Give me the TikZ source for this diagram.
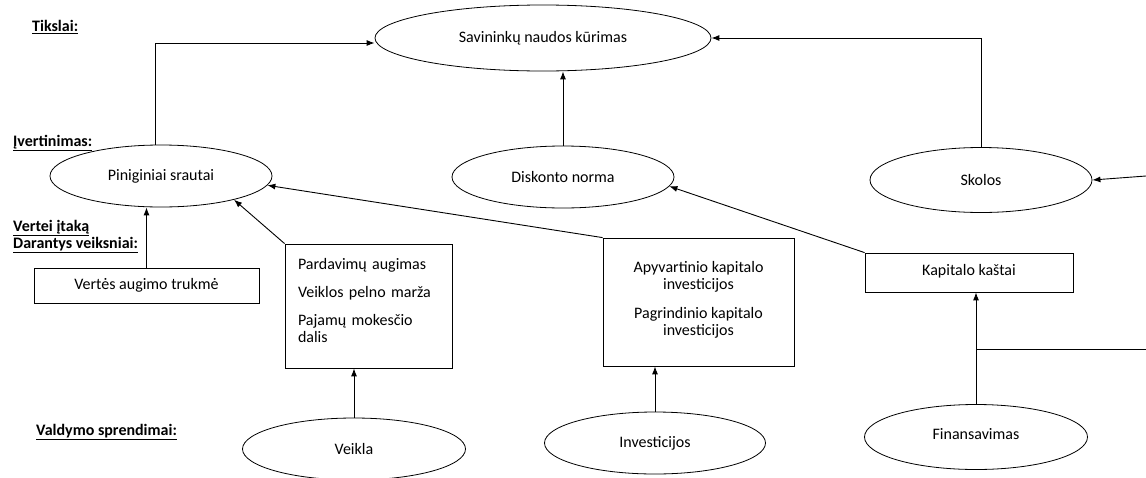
\documentclass[tikz,border=0pt]{standalone}
\usepackage{fontspec}
\setmainfont{Carlito}
\usetikzlibrary{shapes.geometric,arrows.meta}

\begin{document}
\begin{tikzpicture}[x=1pt,y=-1pt]
        \tikzstyle{every node}=[font=\fontsize{16}{17}\selectfont]
        \tikzstyle{oval}=[draw,ellipse,line width=0.8pt,inner sep=0pt,minimum width=222pt,minimum height=62pt]
        \tikzstyle{box}=[draw,rectangle,line width=0.8pt,inner sep=0pt]
        \tikzstyle{level}=[anchor=west,inner sep=0pt,font=\fontsize{16}{17}\selectfont\bfseries]
        \tikzstyle{arr}=[-{Latex[length=8pt,width=6pt]},line width=0.9pt]
        \useasboundingbox (0,0) rectangle (1146,477);

        % level labels
        \node[level] (lblgoal) at (32,27) {\underline{Tikslai:}};
        \node[level] (lbleval) at (13,143) {\underline{Įvertinimas:}};
        \node[level] (lblfactor) at (13,228) {\underline{Vertei įtaką}};
        \node[level] (lblfactorb) at (13,245) {\underline{Darantys veiksniai:}};
        \node[level] (lbldecision) at (36,432) {\underline{Valdymo sprendimai:}};

        % goal
        \node[oval,minimum width=336pt,minimum height=66pt] (goal) at (543,38) {Savininkų naudos kūrimas};

        % evaluation
        \node[oval] (cash) at (161,176) {Piniginiai srautai};
        \node[oval] (disc) at (563,177) {Diskonto norma};
        \node[oval,minimum height=65pt] (debt) at (981,180) {Skolos};
        \draw[arr] ([xshift=-6pt]cash.north) |- ([yshift=-5pt]goal.west);
        \draw[arr] (disc.north) -- (disc.north |- goal.south);
        \draw[arr] (debt.north) |- (goal.east);
        \coordinate (debtin) at (1146,176);
        \draw[arr] (debtin) -- (debt.east);

        % value drivers
        \node[box,minimum width=225pt,minimum height=35pt] (growth) at (146.5,285.5) {Vertės augimo trukmė};
        \node[box,minimum width=167pt,minimum height=124pt,text width=141pt,align=left] (opsbox) at (368.5,306)
            {Pardavimų augimas\\[11pt]Veiklos pelno marža\\[11pt]Pajamų mokesčio\\dalis\rule[-12pt]{0pt}{12pt}};
        \node[box,minimum width=191pt,minimum height=128pt,align=center] (invbox) at (698.5,302)
            {Apyvartinio kapitalo\\investicijos\\[12pt]Pagrindinio kapitalo\\investicijos\rule[-8pt]{0pt}{8pt}};
        \node[box,minimum width=208pt,minimum height=39pt] (costbox) at (969,272.5) {Kapitalo kaštai\rule[-6pt]{0pt}{6pt}};
        \draw[arr] (growth.north) -- (growth.north |- cash.south);
        \draw[arr] (opsbox.north west) -- (cash.-18);
        \draw[arr] (invbox.north west) -- (cash.-5);
        \draw[arr] (costbox.north west) -- (disc.-5);

        % management decisions
        \node[oval,minimum width=223pt] (opsdec) at (354,449) {Veikla};
        \node[oval,minimum width=221pt] (invdec) at (655,443) {Investicijos};
        \node[oval,minimum width=223pt,minimum height=65pt] (findec) at (976,437) {Finansavimas\rule[-6pt]{0pt}{6pt}};
        \draw[arr] (opsdec.north) -- (opsdec.north |- opsbox.south);
        \draw[arr] (invdec.north) -- (invdec.north |- invbox.south);
        \draw[arr] (findec.north) -- (findec.north |- costbox.south);
        \coordinate (finout) at (1146,349);
        \draw[line width=0.9pt] (findec.north |- finout) -- (finout);

    \end{tikzpicture}
\end{document}
